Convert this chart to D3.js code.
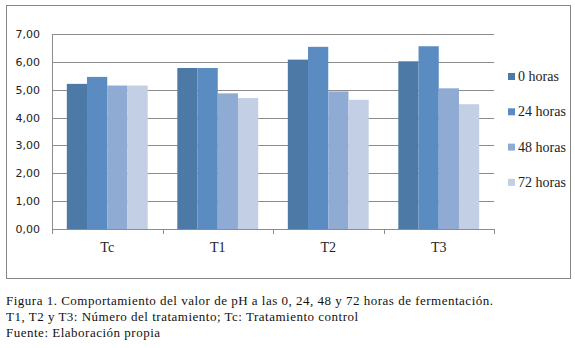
<!DOCTYPE html>
<html>
<head>
<meta charset="utf-8">
<script src="https://cdn.jsdelivr.net/npm/d3@7"></script>
<style>
  body { margin: 0; background: #fff; }
  svg { display: block; }
  .serif { font-family: 'Liberation Serif', 'DejaVu Serif', 'Times New Roman', serif; }
</style>
</head>
<body>
<svg></svg>
<script>
// categories and series
var categories = ['Tc', 'T1', 'T2', 'T3']
var seriesNames = ['0 horas', '24 horas', '48 horas', '72 horas']
var h0 = [5.21, 5.78, 6.08, 6.02]
var h24 = [5.46, 5.78, 6.54, 6.56]
var h48 = [5.15, 4.87, 4.94, 5.05]
var h72 = [5.15, 4.70, 4.64, 4.48]
var yTicks = [0, 1, 2, 3, 4, 5, 6, 7]
var caption = [
    'Figura 1. Comportamiento del valor de pH a las 0, 24, 48 y 72 horas de fermentación.',
    'T1, T2 y T3: Número del tratamiento; Tc: Tratamiento control',
    'Fuente: Elaboración propia'
]

var series = [h0, h24, h48, h72]
var colors = ['#4d79a6', '#5a8cc2', '#90abd3', '#c3cfe5']

var svgWidth = 575, svgHeight = 348
var svg = d3.select('svg')
    .attr('width', svgWidth)
    .attr('height', svgHeight)

// outer frame of the chart
svg.append('rect')
    .attr('x', 6.5).attr('y', 5.5)
    .attr('width', 564).attr('height', 273)
    .attr('fill', 'none')
    .attr('stroke', '#868686')

var plot = {left: 52, right: 494, top: 34, bottom: 229}

var y = d3.scaleLinear().domain([0, 7]).range([plot.bottom, plot.top])
var x0 = d3.scaleBand().domain(categories).range([plot.left, plot.right])
var bw = x0.bandwidth()
var x1 = d3.scaleBand().domain(d3.range(series.length)).range([bw * 0.134, bw * 0.866])

// gridlines
svg.append('g').selectAll('line')
    .data(yTicks.slice(1))
    .enter().append('line')
    .attr('x1', plot.left).attr('x2', plot.right)
    .attr('y1', function(d) { return Math.round(y(d)) + 0.5 })
    .attr('y2', function(d) { return Math.round(y(d)) + 0.5 })
    .attr('stroke', '#8c8c8c')

// y tick labels
svg.append('g').selectAll('text')
    .data(yTicks)
    .enter().append('text')
    .attr('x', 40)
    .attr('y', function(d) { return y(d) + 4 })
    .attr('text-anchor', 'end')
    .attr('font-family', 'DejaVu Sans, sans-serif')
    .attr('font-size', 11)
    .attr('fill', '#222')
    .text(function(d) { return d3.format('.2f')(d).replace('.', ',') })

// bars
var groups = svg.append('g').selectAll('g')
    .data(categories)
    .enter().append('g')
    .attr('transform', function(d) { return 'translate(' + x0(d) + ',0)' })

groups.selectAll('rect')
    .data(function(d, i) { return series.map(function(s, k) { return {k: k, v: s[i]} }) })
    .enter().append('rect')
    .attr('x', function(d) { return x1(d.k) })
    .attr('width', x1.bandwidth())
    .attr('y', function(d) { return y(d.v) })
    .attr('height', function(d) { return plot.bottom - y(d.v) })
    .attr('fill', function(d) { return colors[d.k] })

// axes lines
svg.append('line')
    .attr('x1', plot.left + 0.5).attr('x2', plot.left + 0.5)
    .attr('y1', plot.top).attr('y2', plot.bottom + 5)
    .attr('stroke', '#8c8c8c')
svg.append('line')
    .attr('x1', plot.left).attr('x2', plot.right)
    .attr('y1', plot.bottom + 0.5).attr('y2', plot.bottom + 0.5)
    .attr('stroke', '#8c8c8c')
svg.append('g').selectAll('line')
    .data(categories)
    .enter().append('line')
    .attr('x1', function(d) { return Math.round(x0(d) + bw) + 0.5 })
    .attr('x2', function(d) { return Math.round(x0(d) + bw) + 0.5 })
    .attr('y1', plot.bottom).attr('y2', plot.bottom + 5)
    .attr('stroke', '#8c8c8c')

// category labels
svg.append('g').selectAll('text')
    .data(categories)
    .enter().append('text')
    .attr('class', 'serif')
    .attr('x', function(d) { return x0(d) + bw / 2 })
    .attr('y', 252)
    .attr('text-anchor', 'middle')
    .attr('font-size', 14)
    .attr('fill', '#222')
    .text(function(d) { return d })

// legend
var legend = svg.append('g').selectAll('g')
    .data(seriesNames)
    .enter().append('g')
    .attr('transform', function(d, i) { return 'translate(508,' + (77 + i * 35.3) + ')' })
legend.append('rect')
    .attr('x', 0).attr('y', -4)
    .attr('width', 7).attr('height', 7)
    .attr('fill', function(d, i) { return colors[i] })
legend.append('text')
    .attr('class', 'serif')
    .attr('x', 10).attr('y', 4)
    .attr('font-size', 14)
    .attr('fill', '#222')
    .text(function(d) { return d })

// caption below the chart
svg.append('g').selectAll('text')
    .data(caption)
    .enter().append('text')
    .attr('class', 'serif')
    .attr('x', 6)
    .attr('y', function(d, i) { return 305 + i * 16 })
    .attr('font-size', 13)
    .attr('letter-spacing', 0.5)
    .attr('fill', '#111')
    .text(function(d) { return d })
</script>
</body>
</html>
